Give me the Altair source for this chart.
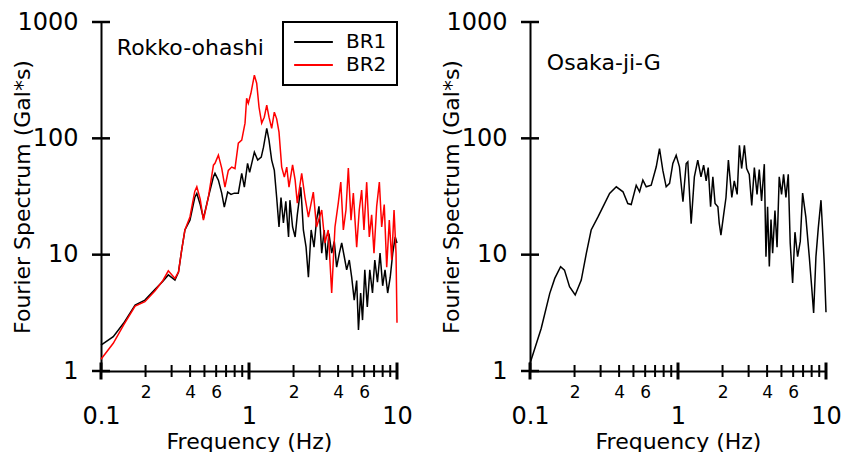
import altair as alt
import pandas as pd

FONT = "DejaVu Sans"

# ---------------- data ----------------
br1_freq = [0.1, 0.121, 0.142, 0.17, 0.198, 0.232, 0.262, 0.285, 0.316, 0.334,
            0.351, 0.369, 0.399, 0.43, 0.444, 0.468, 0.492, 0.532, 0.575, 0.589,
            0.621, 0.654, 0.681, 0.718, 0.756, 0.796, 0.847, 0.893, 0.93, 0.978,
            1.01, 1.087, 1.145, 1.21, 1.253, 1.318, 1.365, 1.423, 1.483, 1.538,
            1.595, 1.645, 1.708, 1.773, 1.85, 1.89, 1.97, 2.05, 2.12, 2.24,
            2.33, 2.43, 2.52, 2.63, 2.75, 2.86, 2.97, 3.10, 3.22, 3.34,
            3.47, 3.62, 3.77, 3.91, 4.08, 4.23, 4.41, 4.57, 4.76, 4.94,
            5.14, 5.34, 5.49, 5.68, 5.85, 6.06, 6.3, 6.55, 6.83, 7.08,
            7.38, 7.68, 8.0, 8.3, 8.65, 9.0, 9.36, 9.73, 10.0]
br1_val = [1.67, 1.97, 2.57, 3.69, 4.07, 5.03, 5.9, 6.7, 6.05, 7.1,
           11, 16.3, 19.8, 31, 33.6, 27, 20.5, 31.4, 46.7, 50,
           43.7, 33.8, 25.6, 34.5, 33, 33.8, 33.8, 50, 38, 61,
           51, 76, 65, 69, 84, 122, 96.6, 65, 53, 31,
           17.3, 31, 18.7, 28.7, 14.2, 29.4, 17.3, 14.2, 22, 38,
           16.3, 11.6, 6.4, 16.3, 11.6, 19.8, 26, 10.3, 16.3, 9.0,
           15.2, 10.3, 13, 7.8, 10.3, 12.6, 9.5, 7.4, 9.0, 6.4,
           4.07, 6.0, 2.25, 4.68, 2.74, 7.4, 3.55, 7.4, 4.68, 9.0,
           5.8, 10.3, 5.4, 7.4, 4.68, 6.4, 10.3, 14.2, 12.6]

br2_freq = [0.1, 0.121, 0.142, 0.17, 0.198, 0.232, 0.262, 0.285, 0.316, 0.334,
            0.351, 0.369, 0.399, 0.43, 0.444, 0.468, 0.492, 0.532, 0.575, 0.589,
            0.621, 0.654, 0.688, 0.725, 0.764, 0.804, 0.847, 0.893, 0.94, 0.964,
            0.989, 1.03, 1.087, 1.127, 1.169, 1.218, 1.268, 1.318, 1.365, 1.423,
            1.483, 1.538, 1.595, 1.663, 1.733, 1.799, 1.863, 1.97, 2.05, 2.12,
            2.27, 2.39, 2.52, 2.72, 2.86, 3.10, 3.26, 3.43, 3.62, 3.81,
            4.01, 4.17, 4.34, 4.52, 4.69, 4.89, 5.07, 5.34, 5.56, 5.77,
            5.98, 6.24, 6.5, 6.74, 6.99, 7.29, 7.6, 7.88, 8.2, 8.52,
            8.87, 9.21, 9.55, 9.85, 10.0]
br2_val = [1.26, 1.73, 2.48, 3.62, 3.94, 4.9, 6.0, 7.27, 6.25, 7.1,
           11, 16.3, 21.1, 35, 38.3, 30, 19.8, 31.4, 58.8, 61,
           71.7, 55.5, 38, 53, 56.6, 55, 91, 96.6, 135, 221,
           200, 244, 349, 298, 185, 135, 152, 193, 152, 122,
           168, 147, 113, 56.6, 46.4, 56.6, 38, 59, 43.7, 27.7,
           50, 31, 21, 34.5, 17.3, 24.2, 12.6, 16.3, 4.68, 17.3,
           27.7, 42, 16.3, 24.2, 55.5, 19.8, 33.8, 11.6, 24.2, 35.9,
           16.3, 42, 14.2, 22, 10.3, 26, 42, 17.3, 27, 7.8,
           19.8, 9.0, 24.2, 10.3, 2.6]

osaka_freq = [0.1, 0.119, 0.136, 0.147, 0.161, 0.171, 0.185, 0.202, 0.222, 0.240,
              0.259, 0.288, 0.319, 0.345, 0.383, 0.425, 0.458, 0.483, 0.522, 0.550,
              0.579, 0.61, 0.659, 0.713, 0.75, 0.79, 0.832, 0.877, 0.923, 0.972,
              1.023, 1.08, 1.136, 1.165, 1.227, 1.29, 1.36,
              1.43, 1.49, 1.55, 1.60, 1.66, 1.72, 1.78, 1.86, 1.90, 1.95,
              2.04, 2.11, 2.19, 2.31, 2.40, 2.51, 2.60, 2.69, 2.81, 2.91,
              3.03, 3.15, 3.28, 3.42, 3.54, 3.67, 3.83, 3.93, 4.03, 4.14,
              4.25, 4.36, 4.52, 4.67, 4.83, 5.01, 5.17, 5.36, 5.56, 5.73,
              5.95, 6.17, 6.43, 6.70, 6.95, 7.31, 7.71, 8.0, 8.25, 8.55,
              8.87, 9.25, 9.54, 9.73, 10.0]
osaka_val = [1.16, 2.32, 4.65, 6.25, 7.87, 7.37, 5.3, 4.5, 6.05, 10.2,
             16.3, 21.1, 27.5, 33.6, 38.3, 34.7, 27.5, 27, 39.5, 34.7,
             43.7, 38.3, 39.5, 56.9, 81.7, 53, 38.3, 41, 60.8, 71.6,
             56.9, 28.5, 60.8, 62.8, 18.5, 46.7, 65,
             46.7, 58.9, 43, 56, 25.8, 46.7, 27.5, 25.8, 18.6, 14.7,
             22.6, 31, 65, 31, 43, 33, 87, 55, 87, 55,
             49, 26.5, 56, 33, 54, 29, 60, 9.6, 25.8, 7.9,
             20, 10.3, 24, 11.6, 46.7, 33, 49, 31, 49, 12.6,
             5.7, 15.6, 9.6, 13, 33.8, 21, 9.6, 5.3, 3.15, 9.6,
             17, 29.4, 14, 8.4, 3.2]

series_names = ["BR1", "BR2"]
series_colors = ["black", "red"]
station_names = ["Rokko-ohashi", "Osaka-ji-G"]

x_tick_values = [0.1, 0.2, 0.3, 0.4, 0.5, 0.6, 0.7, 0.8, 0.9,
                 1, 2, 3, 4, 5, 6, 7, 8, 9, 10]
x_major_values = [0.1, 1, 10]
x_major_labels = ["0.1", "1", "10"]
x_minor_labelled = [0.2, 0.4, 0.6, 2, 4, 6]
x_minor_labels = ["2", "4", "6", "2", "4", "6"]
x_minor_values = [v for v in x_tick_values if v not in x_major_values]
y_tick_values = [1, 10, 100, 1000]

# ---------------- helpers ----------------
df_left = pd.concat([
    pd.DataFrame({"freq": br1_freq, "value": br1_val, "series": series_names[0]}),
    pd.DataFrame({"freq": br2_freq, "value": br2_val, "series": series_names[1]}),
])
df_right = pd.DataFrame({"freq": osaka_freq, "value": osaka_val})

W, H = 296, 349

xscale = alt.Scale(type="log", domain=[0.1, 10], nice=False)
yscale = alt.Scale(type="log", domain=[1, 1000], nice=False)

parts = []
for v, t in zip(x_major_values, x_major_labels):
    parts.append(f"datum.value == {v} ? ['', '{t}']")
for v, t in zip(x_minor_labelled, x_minor_labels):
    parts.append(f"datum.value == {v} ? '{t}'")
label_expr = " : ".join(parts) + " : ''"
major_test = " || ".join(f"datum.value == {v}" for v in x_major_values)

xaxis = alt.Axis(
    values=x_tick_values, labelExpr=label_expr, labelOverlap=False,
    labelFlush=False, ticks=False, grid=False, domainWidth=2,
    labelFontSize={"condition": {"test": major_test, "value": 24}, "value": 17},
    labelPadding=13, labelLineHeight=20, labelBaseline="top",
    title="Frequency (Hz)", titleFontSize=22, titleFontWeight="normal",
    titleY=70, titleBaseline="middle",
)
yaxis = alt.Axis(
    values=y_tick_values, format="d", labelOverlap=False, labelFlush=False,
    ticks=False, grid=False, domainWidth=2, labelFontSize=24, labelPadding=23,
    title="Fourier Spectrum (Gal*s)", titleFontSize=22, titleFontWeight="normal",
    titleX=-79, titleBaseline="middle",
)


def tick_layers():
    xmaj = alt.Chart(pd.DataFrame({"t": x_major_values})).mark_tick(
        orient="vertical", size=17, thickness=3, color="black", opacity=1
    ).encode(x=alt.X("t:Q", scale=xscale, axis=xaxis),
             y=alt.YDatum(1, scale=yscale, axis=yaxis))
    xmin = alt.Chart(pd.DataFrame({"t": x_minor_values})).mark_tick(
        orient="vertical", size=12, thickness=2, color="black", opacity=1
    ).encode(x=alt.X("t:Q", scale=xscale, axis=xaxis),
             y=alt.YDatum(1, scale=yscale, axis=yaxis))
    ymaj = alt.Chart(pd.DataFrame({"t": y_tick_values})).mark_tick(
        orient="horizontal", size=18, thickness=2.5, color="black", opacity=1
    ).encode(y=alt.Y("t:Q", scale=yscale, axis=yaxis),
             x=alt.XDatum(0.1, scale=xscale, axis=xaxis))
    return [xmaj, xmin, ymaj]


def station_label(name, fx, vy):
    return alt.Chart(pd.DataFrame({"name": [name]})).mark_text(
        align="left", baseline="middle", fontSize=22, font=FONT, color="black"
    ).encode(x=alt.XDatum(fx, scale=xscale, axis=xaxis),
             y=alt.YDatum(vy, scale=yscale, axis=yaxis), text="name:N")


left_lines = alt.Chart(df_left).mark_line(strokeWidth=1.5).encode(
    x=alt.X("freq:Q", scale=xscale, axis=xaxis),
    y=alt.Y("value:Q", scale=yscale, axis=yaxis),
    color=alt.Color(
        "series:N",
        scale=alt.Scale(domain=series_names, range=series_colors),
        legend=alt.Legend(
            title=None, orient="top-right", offset=0, padding=10,
            strokeColor="black", fillColor="white", symbolType="stroke",
            symbolSize=1500, symbolStrokeWidth=2, labelFontSize=20,
            labelFont=FONT, labelOffset=12, rowPadding=3, clipHeight=20,
        ),
    ),
)

right_lines = alt.Chart(df_right).mark_line(strokeWidth=1.5, color="black").encode(
    x=alt.X("freq:Q", scale=xscale, axis=xaxis),
    y=alt.Y("value:Q", scale=yscale, axis=yaxis),
)

left = alt.layer(
    left_lines, *tick_layers(), station_label(station_names[0], 0.128, 600)
).properties(width=W, height=H)
right = alt.layer(
    right_lines, *tick_layers(), station_label(station_names[1], 0.13, 445)
).properties(width=W, height=H)

chart = alt.hconcat(left, right, spacing=27).resolve_scale(
    color="independent"
).resolve_legend(color="independent").properties(
    padding={"left": 11, "top": 10, "right": 0, "bottom": 0}
).configure_view(stroke=None).configure_axis(
    labelFont=FONT, titleFont=FONT, labelColor="black", titleColor="black",
    domainColor="black",
).configure_legend(strokeWidth=2)

chart.save("out.html", embed_options={"renderer": "svg", "actions": False})
